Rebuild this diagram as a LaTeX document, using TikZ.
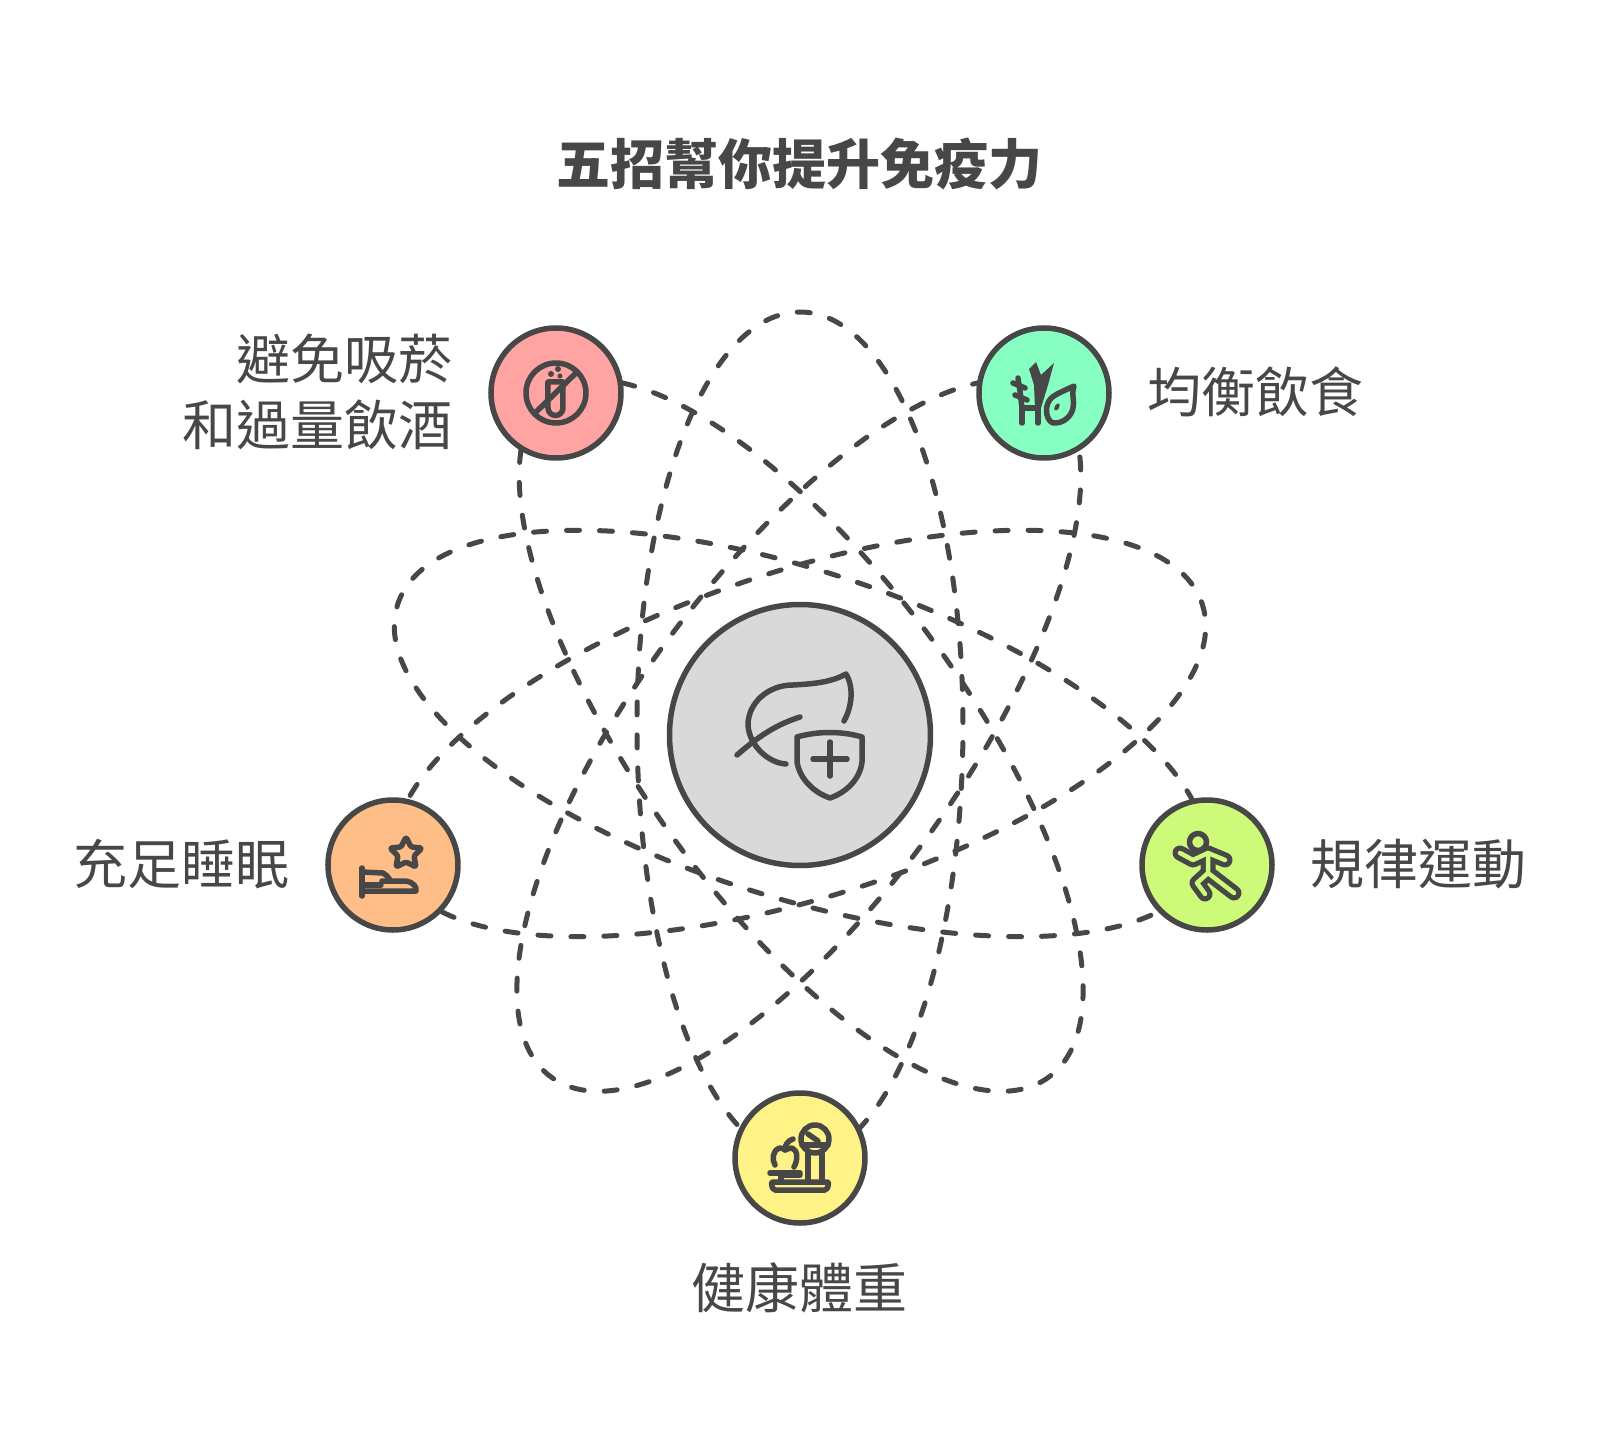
\documentclass[tikz,border=0pt]{standalone}
\usepackage{fontspec}
\usetikzlibrary{positioning,backgrounds}
\newfontfamily\cjk{Noto Sans CJK TC}
\definecolor{ink}{HTML}{474747}
\definecolor{hubgrey}{HTML}{D9D9D9}
\definecolor{smokered}{HTML}{FFA3A3}
\definecolor{dietgreen}{HTML}{88FFC2}
\definecolor{sportlime}{HTML}{CDFA78}
\definecolor{weightyellow}{HTML}{FFF388}
\definecolor{sleeporange}{HTML}{FFBE87}

\begin{document}
\begin{tikzpicture}[
    x=1pt, y=1pt,
    spot/.style={circle, draw=ink, line width=5.5pt, inner sep=0pt, minimum size=130pt},
    hubspot/.style={spot, fill=hubgrey, minimum size=261pt},
    caption/.style={font=\cjk\fontsize{54}{66}\selectfont, text=ink, align=center, inner sep=0pt, yshift=1pt},
    orbit/.style={draw=ink, line width=5pt, line cap=round, dash pattern=on 13pt off 20pt},
    icon/.style={draw=ink, line width=5.5pt, line cap=round, line join=round}
]
\useasboundingbox (-800,-719) rectangle (800,735);

% Middle and the five spots round it
\node[hubspot] (hub) at (0,0) {};
\node[spot, fill=smokered] (smoke) at (-244,342) {};
\node[spot, fill=dietgreen] (diet) at (244,342) {};
\node[spot, fill=sportlime] (sport) at (407,-130) {};
\node[spot, fill=weightyellow] (weight) at (0,-423) {};
\node[spot, fill=sleeporange] (sleep) at (-407,-130) {};

% Texts
\node[caption, font=\cjk\bfseries\fontsize{54}{66}\selectfont] (title) at (0,570) {五招幫你提升免疫力};
\node[caption, align=right, left=36pt of smoke] (smoketext) {避免吸菸\\和過量飲酒};
\node[caption, right=36pt of diet] (diettext) {均衡飲食};
\node[caption, right=36pt of sport] (sporttext) {規律運動};
\node[caption, below=38pt of weight] (weighttext) {健康體重};
\node[caption, left=36pt of sleep] (sleeptext) {充足睡眠};

% Orbits behind the spots
\begin{scope}[on background layer]
    \foreach \turn in {-90,-18,54,126,198}
        \draw[orbit, rotate=\turn] (423,0) .. controls (423,90) and (229,163) .. (-10,163)
            .. controls (-240,163) and (-423,92) .. (-423,0)
            .. controls (-423,-92) and (-240,-163) .. (-10,-163)
            .. controls (229,-163) and (423,-90) .. cycle;
\end{scope}

% Leaf and shield
\begin{scope}[shift={(hub.center)}, icon]
    \draw (-14,-29) .. controls (-32,-28) and (-51,-10) .. (-52,10)
        .. controls (-52,32) and (-32,50) .. (-7,50)
        .. controls (10,51) and (30,52) .. (46,61)
        .. controls (54,48) and (52,28) .. (44,14);
    \draw (-63,-20) .. controls (-42,-2) and (-25,10) .. (0,18);
    \draw (-3,-2) .. controls (18,4) and (42,4) .. (62,-2) -- (62,-27)
        .. controls (60,-45) and (45,-58) .. (30,-63)
        .. controls (15,-58) and (0,-45) .. (-3,-27) -- cycle;
    \draw (13,-24) -- (47,-24);
    \draw (30,-7) -- (30,-41);
\end{scope}

% Barred tube
\begin{scope}[shift={(smoke.center)}, icon]
    \draw (0,0) circle [radius=30];
    \draw (-21,-20) -- (21,21);
    \draw (-8,11) -- (7,11) -- (7,-15) arc (0:-180:7.5) -- cycle;
    \fill[ink] (-5,19) circle [radius=3];
    \fill[ink] (2,24) circle [radius=3];
    \fill[ink] (4,17) circle [radius=2.5];
\end{scope}

% Plants
\begin{scope}[shift={(diet.center)}, icon]
    \draw (-22,-30) -- (-22,-15) -- (-6,-15) -- (-6,-30);
    \draw (-22,-15) -- (-24,2) -- (-26,15);
    \draw (-31,10) -- (-19,5);
    \draw (-29,-2) -- (-17,-7);
    \fill[ink] (-9,-15) -- (-10,8) -- (-15,24) -- (-8,31) -- (-3,18) -- (10,30) -- (4,8) -- (-3,-15) -- cycle;
    \draw (30,7) .. controls (20,2) and (8,-2) .. (5,-8)
        .. controls (0,-16) and (3,-28) .. (9,-30)
        .. controls (20,-31) and (28,-22) .. (29,-15)
        .. controls (31,-8) and (27,-2) .. cycle;
    \fill[ink, rotate around={60:(13,-14)}] (13,-14) ellipse [x radius=4, y radius=2.2];
\end{scope}

% Runner
\begin{scope}[shift={(sport.center)}, line cap=round, line join=round]
    \foreach \bodywidth/\bodycolour in {15pt/ink, 4.5pt/sportlime}{
        \draw[\bodycolour, line width=\bodywidth] (-27,12) -- (-14,5) -- (1,12) -- (18,5);
        \draw[\bodycolour, line width=\bodywidth] (1,12) -- (1,-8) -- (27,-28);
        \draw[\bodycolour, line width=\bodywidth] (1,-8) -- (-10,-18) -- (-2,-29);
    }
    \draw[icon, fill=sportlime] (-9,23) circle [radius=8.5];
\end{scope}

% Scale with apple
\begin{scope}[shift={(weight.center)}, icon]
    \draw[rounded corners=2pt] (-29,-24) -- (29,-24) -- (27,-32) -- (-27,-32) -- cycle;
    \draw (8,5) -- (8,-24);
    \draw (22,5) -- (22,-24);
    \draw (15,19) circle [radius=14];
    \draw (2,13) -- (28,13);
    \draw (8,24) -- (18,17);
    \draw (-25,-7) .. controls (-28,-2) and (-28,8) .. (-20,10)
        .. controls (-18,10) and (-16,9) .. (-15,8)
        .. controls (-13,9) and (-10,10) .. (-8,10)
        .. controls (-2,8) and (-2,-2) .. (-6,-9);
    \draw (-15,8) .. controls (-15,14) and (-12,17) .. (-7,19);
    \draw (-30,-15) -- (0,-15);
    \draw (-19,-17) -- (0,-17);
    \draw (-19,-15) -- (-19,-24);
\end{scope}

% Star over bed
\begin{scope}[shift={(sleep.center)}, icon]
    \draw[rounded corners=1.5pt] (13,28) -- (18,18) -- (29,17) -- (21,9) -- (23,-2)
        -- (13,3) -- (3,-2) -- (5,9) -- (-3,17) -- (8,18) -- cycle;
    \draw (-31,-3) -- (-31,-31);
    \draw (-31,-7) -- (-10,-8) .. controls (-7,-9) and (-5,-12) .. (-3,-15);
    \draw (-11,-16) -- (13,-16) .. controls (20,-17) and (24,-22) .. (23,-26) -- (-31,-26);
    \draw (-31,-20) -- (-12,-20);
\end{scope}

\end{tikzpicture}
\end{document}
